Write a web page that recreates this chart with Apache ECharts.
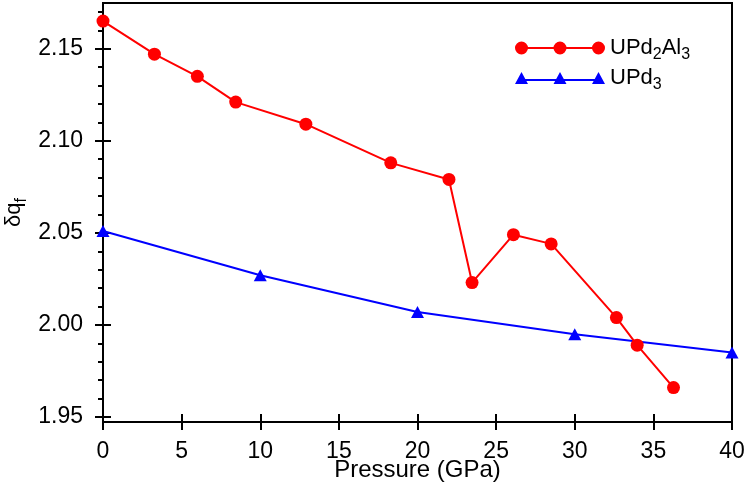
<!DOCTYPE html>
<html>
<head>
<meta charset="utf-8">
<script src="https://cdn.jsdelivr.net/npm/echarts@6/dist/echarts.min.js"></script>
<style>
  html, body { margin: 0; padding: 0; background: #fff; }
  #chart { width: 747px; height: 492px; }
</style>
</head>
<body>
<div id="chart"></div>
<script>
// UPd2Al3 (red circles)
const pressureAl = [0, 3.27, 6.0, 8.44, 12.9, 18.3, 22.0, 23.47, 26.1, 28.5, 32.65, 33.97, 36.28]
const dqAl = [2.165, 2.147, 2.135, 2.121, 2.109, 2.088, 2.079, 2.023, 2.049, 2.044, 2.004, 1.989, 1.966]
// UPd3 (blue triangles)
const pressurePd = [0, 10, 20, 30, 40]
const dqPd = [2.051, 2.027, 2.007, 1.995, 1.985]
// tick labels
const yMajorTicks = [1.95, 2.00, 2.05, 2.10, 2.15]
const yMinorTicks = [1.96, 1.97, 1.98, 1.99, 2.01, 2.02, 2.03, 2.04, 2.06, 2.07, 2.08, 2.09,
  2.11, 2.12, 2.13, 2.14, 2.16, 2.17]

const FONT = 'Liberation Sans'
const yMin = 1.9473
const yMax = 2.1748

// legend icons: line with three markers
const circleIcon = 'path://M0,6.5a6.5,6.5 0 1,1 13,0a6.5,6.5 0 1,1 -13,0Z' +
  'M38.5,6.5a6.5,6.5 0 1,1 13,0a6.5,6.5 0 1,1 -13,0Z' +
  'M77,6.5a6.5,6.5 0 1,1 13,0a6.5,6.5 0 1,1 -13,0Z' +
  'M6.5,5.5h77v2h-77Z'
const triIcon = 'path://M6.5,1L13,13L0,13Z M45,1L51.5,13L38.5,13Z M83.5,1L90,13L77,13Z M6.5,8h77v2h-77Z'

const zip = (xs, ys) => xs.map((x, i) => [x, ys[i]])

const chart = echarts.init(document.getElementById('chart'))

const tickStyle = { color: '#000', width: 2 }
const baseX = {
  type: 'value',
  min: 0,
  max: 40,
  interval: 5,
  position: 'bottom',
  splitLine: { show: false }
}
const baseY = {
  type: 'value',
  min: yMin,
  max: yMax,
  position: 'left',
  splitLine: { show: false }
}

chart.setOption({
  animation: false,
  grid: {
    left: 103,
    right: 15,
    top: 3,
    bottom: 70,
    outerBoundsMode: 'none',
    containLabel: false,
    show: true,
    borderColor: '#000',
    borderWidth: 2
  },
  legend: {
    orient: 'vertical',
    left: 510,
    top: 32,
    itemWidth: 90,
    itemHeight: 13,
    itemGap: 4,
    data: [
      { name: 'UPd2Al3', icon: circleIcon },
      { name: 'UPd3', icon: triIcon }
    ],
    formatter: function (name) {
      return name === 'UPd2Al3'
        ? '{n|UPd}{s|2}{n|Al}{s|3}'
        : '{n|UPd}{s|3}'
    },
    textStyle: {
      fontFamily: FONT,
      color: '#000',
      rich: {
        n: { fontFamily: FONT, fontSize: 22, lineHeight: 30, color: '#000' },
        s: { fontFamily: FONT, fontSize: 16, lineHeight: 15, verticalAlign: 'bottom', color: '#000' }
      }
    }
  },
  xAxis: [
    Object.assign({}, baseX, {
      name: 'Pressure (GPa)',
      nameLocation: 'middle',
      nameGap: 36,
      nameMoveOverlap: false,
      nameTextStyle: { fontFamily: FONT, fontSize: 24, color: '#000' },
      axisLine: { show: true, lineStyle: { color: '#000', width: 2 } },
      axisTick: { show: true, inside: false, length: 8, lineStyle: tickStyle },
      axisLabel: { margin: 18, fontFamily: FONT, fontSize: 23, color: '#000' }
    }),
    Object.assign({}, baseX, {
      axisLine: { show: false },
      axisTick: { show: true, inside: true, length: 8, lineStyle: tickStyle },
      axisLabel: { show: false }
    })
  ],
  yAxis: [
    Object.assign({}, baseY, {
      name: '{n|δq}{s|f}',
      nameLocation: 'middle',
      nameGap: 73,
      nameMoveOverlap: false,
      nameRotate: 90,
      nameTextStyle: {
        fontFamily: FONT,
        color: '#000',
        rich: {
          n: { fontFamily: FONT, fontSize: 22, lineHeight: 32, color: '#000' },
          s: { fontFamily: FONT, fontSize: 16, lineHeight: 16, verticalAlign: 'bottom', color: '#000' }
        }
      },
      axisLine: { show: true, lineStyle: { color: '#000', width: 2 } },
      axisTick: { show: true, inside: false, length: 8, customValues: yMajorTicks, lineStyle: tickStyle },
      axisLabel: {
        margin: 20,
        customValues: yMajorTicks,
        fontFamily: FONT,
        fontSize: 23,
        color: '#000',
        formatter: v => v.toFixed(2)
      }
    }),
    Object.assign({}, baseY, {
      axisLine: { show: false },
      axisTick: { show: true, inside: true, length: 8, customValues: yMajorTicks, lineStyle: tickStyle },
      axisLabel: { show: false }
    }),
    Object.assign({}, baseY, {
      axisLine: { show: false },
      axisTick: { show: true, inside: false, length: 5, customValues: yMinorTicks, lineStyle: tickStyle },
      axisLabel: { show: false }
    })
  ],
  series: [
    {
      name: 'UPd2Al3',
      type: 'line',
      xAxisIndex: 0,
      yAxisIndex: 0,
      data: zip(pressureAl, dqAl),
      symbol: 'circle',
      symbolSize: 13,
      color: '#ff0000',
      itemStyle: { color: '#ff0000', borderWidth: 0 },
      lineStyle: { color: '#ff0000', width: 2 },
      clip: false,
      z: 3
    },
    {
      name: 'UPd3',
      type: 'line',
      xAxisIndex: 0,
      yAxisIndex: 0,
      data: zip(pressurePd, dqPd),
      symbol: 'triangle',
      symbolSize: [13, 12],
      color: '#0000ff',
      itemStyle: { color: '#0000ff', borderWidth: 0 },
      lineStyle: { color: '#0000ff', width: 2 },
      clip: false,
      z: 2
    }
  ]
})
</script>
</body>
</html>
